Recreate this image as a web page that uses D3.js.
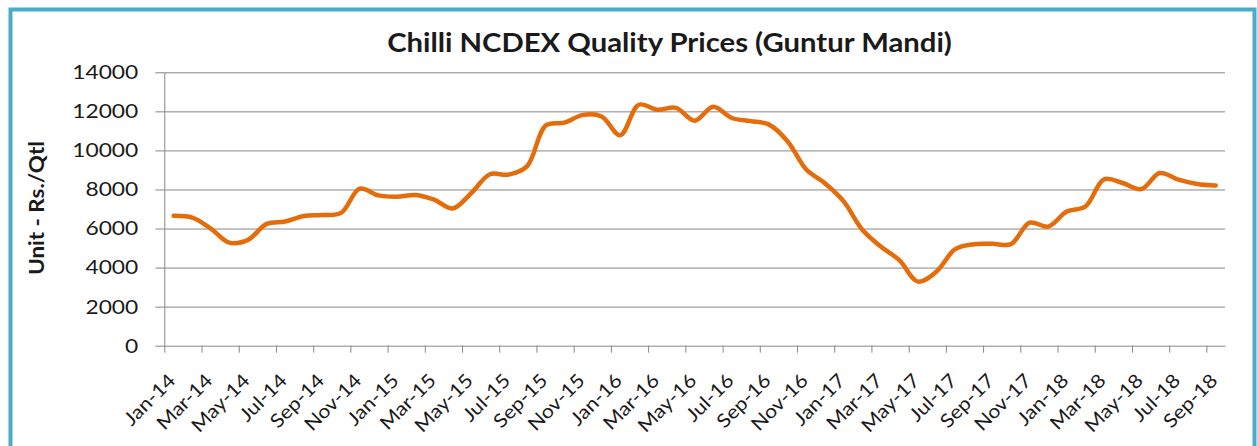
<!DOCTYPE html>
<html>
<head>
<meta charset="utf-8">
<script src="https://cdn.jsdelivr.net/npm/d3@7"></script>
<style>
  body { margin: 0; background: #fff; }
  svg text { font-family: Lato, "Open Sans", sans-serif; fill: #1a1a1a; }
</style>
</head>
<body>
<div id="chart"></div>
<script>
const months = [
  'Jan-14','Feb-14','Mar-14','Apr-14','May-14','Jun-14','Jul-14','Aug-14','Sep-14','Oct-14','Nov-14','Dec-14',
  'Jan-15','Feb-15','Mar-15','Apr-15','May-15','Jun-15','Jul-15','Aug-15','Sep-15','Oct-15','Nov-15','Dec-15',
  'Jan-16','Feb-16','Mar-16','Apr-16','May-16','Jun-16','Jul-16','Aug-16','Sep-16','Oct-16','Nov-16','Dec-16',
  'Jan-17','Feb-17','Mar-17','Apr-17','May-17','Jun-17','Jul-17','Aug-17','Sep-17','Oct-17','Nov-17','Dec-17',
  'Jan-18','Feb-18','Mar-18','Apr-18','May-18','Jun-18','Jul-18','Aug-18','Sep-18'
];
const prices = [
  6650, 6560, 6000, 5280, 5420, 6240, 6360, 6640, 6690, 6800, 8040, 7700,
  7630, 7720, 7480, 7030, 7820, 8780, 8760, 9200, 11280, 11420, 11820, 11740,
  10780, 12340, 12080, 12180, 11520, 12230, 11660, 11500, 11320, 10460, 9020, 8320,
  7400, 5950, 5080, 4380, 3280, 3800, 4940, 5200, 5220, 5200, 6300, 6100,
  6870, 7130, 8520, 8330, 8020, 8840, 8500, 8280, 8200
];
const yTicks = [0, 2000, 4000, 6000, 8000, 10000, 12000, 14000];
const labelMonths = months.filter((m, i) => i % 2 === 0);

const w = 1257;
const h = 446;
const plotLeft = 164.3, plotRight = 1225, plotTop = 72.3, plotBottom = 345.7;

const svg = d3.select('#chart')
  .append('svg')
  .attr('width', w)
  .attr('height', h);

// outer frame
svg.append('rect')
  .attr('x', 10.5).attr('y', 9.5)
  .attr('width', 1244).attr('height', 450)
  .attr('fill', '#fff')
  .attr('stroke', '#4bacc6')
  .attr('stroke-width', 4);

const xIdx = d3.scaleLinear().domain([0, months.length]).range([plotLeft, plotRight]);
const xBand = d3.scaleBand().domain(months).range([plotLeft, plotRight]).padding(0);
const y = d3.scaleLinear().domain([0, 14000]).range([plotBottom, plotTop]);

// gridlines
svg.append('g')
  .attr('transform', 'translate(' + plotLeft + ',0)')
  .call(d3.axisLeft(y).tickValues(yTicks.slice(1)).tickSize(-(plotRight - plotLeft)).tickFormat(''))
  .call(g => g.select('.domain').remove())
  .call(g => g.selectAll('line').attr('stroke', '#878787'));

// y axis
svg.append('g')
  .attr('transform', 'translate(' + plotLeft + ',0)')
  .call(d3.axisLeft(y).tickValues(yTicks).tickFormat(d3.format('d')).tickSize(9).tickSizeOuter(0))
  .call(g => g.select('.domain').attr('stroke', '#878787'))
  .call(g => g.selectAll('line').attr('stroke', '#878787'))
  .call(g => g.selectAll('text')
    .attr('font-size', 20)
    .attr('font-family', 'Lato')
    .attr('fill', '#1a1a1a')
    .attr('x', -26 / 1.14)
    .attr('transform', 'scale(1.14,1)'));

// x axis ticks (at category boundaries, every 2 months)
svg.append('g')
  .attr('transform', 'translate(0,' + plotBottom + ')')
  .call(d3.axisBottom(xIdx).tickValues(d3.range(0, months.length, 2)).tickSize(7).tickSizeOuter(0).tickFormat(''))
  .call(g => g.select('.domain').attr('stroke', '#878787'))
  .call(g => g.selectAll('line').attr('stroke', '#878787'));

// x axis labels
svg.append('g')
  .attr('transform', 'translate(0,' + plotBottom + ')')
  .call(d3.axisBottom(xBand).tickValues(labelMonths).tickSize(0))
  .call(g => g.select('.domain').remove())
  .call(g => g.selectAll('text')
    .attr('font-size', 19)
    .attr('font-family', 'Lato')
    .attr('fill', '#1a1a1a')
    .attr('text-anchor', 'end')
    .attr('y', 0)
    .attr('dy', 0)
    .attr('transform', 'translate(3,36) rotate(-45) scale(1.12,1)'));

// price line
const line = d3.line()
  .x((d, i) => xBand(months[i]) + xBand.bandwidth() / 2)
  .y(d => y(d))
  .curve(d3.curveCatmullRom.alpha(0.5));

svg.append('path')
  .datum(prices)
  .attr('fill', 'none')
  .attr('stroke', '#e46c0a')
  .attr('stroke-width', 4.5)
  .attr('stroke-linejoin', 'round')
  .attr('stroke-linecap', 'round')
  .attr('d', line);

// title
svg.append('text')
  .attr('transform', 'translate(669.5,52) scale(1.126,1)')
  .attr('text-anchor', 'middle')
  .attr('font-size', 26)
  .attr('font-weight', 'bold')
  .text('Chilli NCDEX Quality Prices (Guntur Mandi)');

// y axis title
svg.append('text')
  .attr('transform', 'translate(44,208) rotate(-90) scale(1.12,1)')
  .attr('text-anchor', 'middle')
  .attr('font-size', 20)
  .attr('font-weight', 'bold')
  .text('Unit - Rs./Qtl');
</script>
</body>
</html>
